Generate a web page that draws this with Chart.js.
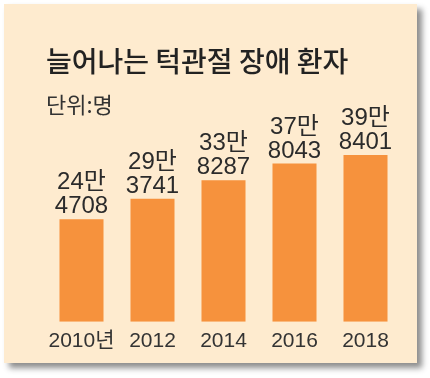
<!DOCTYPE html>
<html>
<head>
<meta charset="utf-8">
<script src="https://cdn.jsdelivr.net/npm/chart.js@4"></script>
<style>
  body { margin: 0; background: #fff; }
  #wrap { position: relative; width: 430px; height: 378px; }
  #panel {
    position: absolute; left: 4px; top: 4px; width: 413px; height: 359px;
    background: #feebcf;
    box-shadow: 5px 5px 6px rgba(0, 0, 0, 0.45);
  }
  #c { position: absolute; left: 0; top: 0; }
</style>
</head>
<body>
<div id="wrap">
  <div id="panel"></div>
  <canvas id="c" width="430" height="378"></canvas>
</div>
<script>
var years = ['2010년', '2012', '2014', '2016', '2018'];
var patients = [244708, 293741, 338287, 378043, 398401];

var barColor = '#f6923d';
var textColor = '#2b2b2b';

// two-line labels above each bar: "24만" / "4708"
var valueLabels = {
    id: 'valueLabels',
    afterDatasetsDraw: function (chart) {
        var ctx = chart.ctx;
        var meta = chart.getDatasetMeta(0);
        ctx.save();
        ctx.fillStyle = textColor;
        ctx.font = '24px "Liberation Sans", "Noto Sans CJK KR", sans-serif';
        ctx.textAlign = 'center';
        ctx.textBaseline = 'alphabetic';
        meta.data.forEach(function (bar, i) {
            var v = patients[i];
            var man = Math.floor(v / 10000) + '만';
            var rest = String(v % 10000).padStart(4, '0');
            ctx.fillText(rest, bar.x, bar.y - 6);
            ctx.fillText(man, bar.x, bar.y - 30);
        });
        ctx.restore();
    }
};

new Chart(document.getElementById('c'), {
    type: 'bar',
    data: {
        labels: years,
        datasets: [{
            data: patients,
            backgroundColor: barColor,
            borderWidth: 0,
            barPercentage: 0.62,
            categoryPercentage: 1
        }]
    },
    options: {
        responsive: false,
        animation: false,
        layout: { padding: { left: 46, right: 29, top: 0, bottom: 17 } },
        plugins: {
            legend: { display: false },
            tooltip: { enabled: false },
            title: {
                display: true,
                text: '늘어나는 턱관절 장애 환자',
                align: 'start',
                color: '#222',
                font: { family: '"Noto Sans CJK KR", sans-serif', size: 28, weight: '500' },
                padding: { top: 45, bottom: 0 }
            },
            subtitle: {
                display: true,
                text: '단위:명',
                align: 'start',
                color: '#333',
                font: { family: '"Noto Sans CJK KR", sans-serif', size: 22, weight: '400' },
                padding: { top: 13, bottom: 10 }
            }
        },
        scales: {
            x: {
                grid: { display: false, drawTicks: false },
                border: { display: false },
                ticks: {
                    color: '#333',
                    padding: 7,
                    maxRotation: 0,
                    minRotation: 0,
                    autoSkip: false,
                    font: { family: '"Liberation Sans", "Noto Sans CJK KR", sans-serif', size: 21 }
                }
            },
            y: {
                display: false,
                min: 0,
                max: 463000
            }
        }
    },
    plugins: [valueLabels]
});
</script>
</body>
</html>
